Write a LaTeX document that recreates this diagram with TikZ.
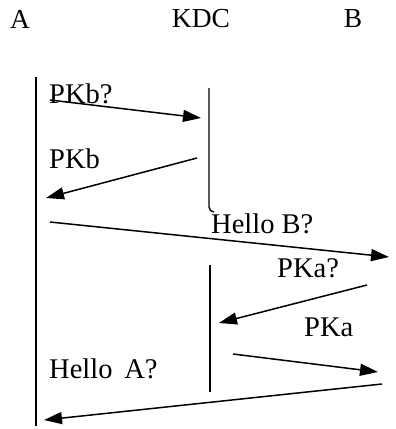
\documentclass[tikz,border=0pt]{standalone}
\usepackage{fontspec}
\setmainfont{Liberation Serif}
\usetikzlibrary{arrows.meta}
\begin{document}
\begin{tikzpicture}[x=1pt,y=-1pt,
  lifeline/.style={line width=1.4pt,black},
  msg/.style={line width=1.5pt,black,-{Triangle[length=18pt,width=12pt]}},
  party/.style={font=\fontsize{27.5}{29}\selectfont,inner sep=0pt},
  lbl/.style={font=\fontsize{28.5}{30}\selectfont,inner sep=0pt,anchor=west}]
\useasboundingbox (0,0) rectangle (396,429);
% participants
\node[party] (A) at (20,19) {A};
\node[party] (KDC) at (201,19) {KDC};
\node[party] (B) at (353,19) {B};
% lifelines
\coordinate (a0) at (36,77);
\coordinate (a1) at (36,426);
\coordinate (k0) at (209,88);
\coordinate (k1) at (209,207);
\coordinate (k2) at (214,212);
\coordinate (k3) at (210,265);
\coordinate (k4) at (210,392);
\draw[lifeline] (a0) -- (a1);
\draw[lifeline] (k0) -- (k1) to[out=-90,in=180] (k2);
\draw[lifeline] (k3) -- (k4);
% message end points
\coordinate (m1s) at (50,100);  \coordinate (m1e) at (201,118);
\coordinate (m2s) at (197,158); \coordinate (m2e) at (46,198);
\coordinate (m3s) at (50,222);  \coordinate (m3e) at (389,257);
\coordinate (m4s) at (367,285); \coordinate (m4e) at (219,323);
\coordinate (m5s) at (233,354); \coordinate (m5e) at (378,372);
\coordinate (m6s) at (382,384); \coordinate (m6e) at (44,420);
% messages
\draw[msg] (m1s) -- (m1e);
\draw[msg] (m2s) -- (m2e);
\draw[msg] (m3s) -- (m3e);
\draw[msg] (m4s) -- (m4e);
\draw[msg] (m5s) -- (m5e);
\draw[msg] (m6s) -- (m6e);
% labels
\node[lbl] (l1) at (49,94) {PKb?};
\node[lbl] (l2) at (49,159) {PKb};
\node[lbl] (l3) at (211,224) {Hello B?};
\node[lbl] (l4) at (277,268) {PKa?};
\node[lbl] (l5) at (304,327) {PKa};
\node[lbl] (l6) at (49,369) {Hello\, A?};
\end{tikzpicture}
\end{document}
